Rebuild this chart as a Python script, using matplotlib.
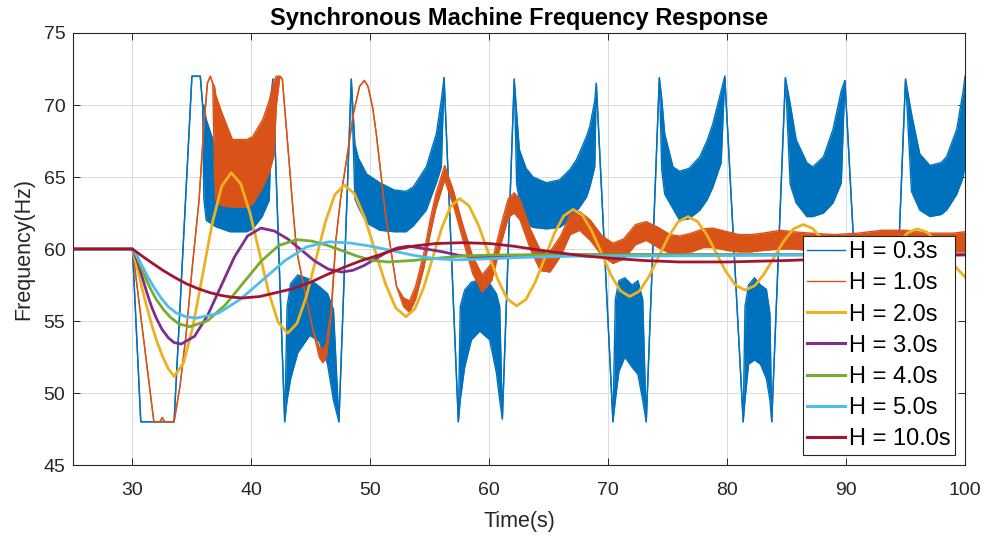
import matplotlib
matplotlib.use("Agg")
import matplotlib.pyplot as plt
from matplotlib.lines import Line2D

plt.rcParams['font.family'] = ['Liberation Sans', 'DejaVu Sans']

# H = 0.3s : time, lower envelope, upper envelope (equal where the trace is a single line)
t_03 = [25.0, 30.0, 30.7, 33.5, 35.0, 35.7, 35.9, 36.0, 36.2, 37.0, 38.2, 39.6, 40.1, 40.9, 41.5, 41.8,
        42.8, 43.0, 43.3, 43.9, 44.9, 45.7, 46.4, 46.9, 47.36, 48.4,
        48.7, 49.0, 49.7, 50.8, 52.0, 53.0, 53.6, 54.7, 55.55, 55.97, 56.2,
        57.4, 57.56, 57.93, 58.5, 59.2, 60.03, 60.6, 60.88, 61.1, 62.1,
        62.3, 62.53, 63.1, 63.68, 64.8, 65.9, 66.76, 67.33, 68.17, 68.45, 68.87, 69.0,
        70.4, 70.6, 70.9, 71.4, 72.0, 72.5, 72.9, 73.2, 74.3,
        74.5, 74.75, 75.45, 76.0, 76.8, 77.7, 78.3, 78.8, 79.5, 79.8,
        81.35, 81.5, 81.8, 82.3, 82.8, 83.3, 83.6, 83.75, 84.9,
        85.3, 85.8, 86.7, 87.2, 88.1, 88.9, 89.6, 89.9,
        91.45, 91.6, 91.9, 92.4, 92.9, 93.4, 93.7, 93.85, 95.0,
        95.5, 96.2, 97.05, 98.0, 98.45, 99.3, 99.85, 100.0]
lo_03 = [60, 60, 48, 48, 72, 72, 70, 63.5, 62.0, 61.55, 61.2, 61.2, 61.4, 62.25, 63.4, 71.8,
         48, 49.5, 51.0, 52.8, 54.0, 53.6, 52.0, 49.5, 48, 71.8,
         63.5, 62.9, 61.8, 61.3, 61.2, 61.2, 61.6, 62.7, 64.6, 65.7, 71.9,
         48, 49.5, 51.8, 53.7, 54.3, 53.7, 51.4, 49.5, 48.2, 71.8,
         64.5, 63.4, 61.8, 61.5, 61.4, 61.5, 62.0, 62.6, 63.6, 64.3, 65.7, 71.5,
         48, 49.5, 51.5, 52.5, 51.8, 51.3, 49.5, 48, 71.9,
         65.5, 63.8, 62.8, 62.0, 62.1, 62.7, 63.4, 64.3, 66.0, 72.0,
         48, 49.5, 52.0, 52.3, 52.0, 51.0, 49.5, 48, 71.9,
         64.5, 63.2, 62.25, 62.25, 62.5, 63.2, 64.6, 71.7,
         48, 49.5, 52.0, 52.3, 52.0, 51.0, 49.5, 48, 71.8,
         64.0, 62.7, 62.25, 62.4, 62.7, 63.8, 65.0, 66.0]
hi_03 = [60, 60, 48, 48, 72, 72, 70, 70.0, 69.0, 67.0, 65.5, 65.5, 66.0, 67.5, 69.5, 71.8,
         48, 56.0, 57.6, 58.2, 57.9, 57.4, 56.9, 55.8, 48, 71.8,
         67.3, 66.3, 65.2, 64.6, 64.1, 64.0, 64.3, 65.7, 68.0, 70.35, 71.9,
         48, 56.0, 57.15, 57.7, 57.85, 57.6, 56.9, 56.0, 48.2, 71.8,
         69.5, 66.9, 65.6, 65.0, 64.6, 64.8, 65.5, 66.2, 67.8, 68.5, 70.3, 71.5,
         48, 56.5, 57.8, 58.0, 57.5, 57.8, 56.5, 48, 71.9,
         70.5, 68.0, 65.7, 65.4, 65.6, 66.4, 67.5, 68.7, 71.0, 72.0,
         48, 56.0, 57.5, 58.0, 57.5, 57.2, 55.5, 48, 71.9,
         70.1, 67.6, 66.0, 65.7, 66.4, 68.3, 71.0, 71.7,
         48, 56.0, 57.5, 58.0, 57.5, 57.2, 55.5, 48, 71.8,
         69.4, 66.6, 65.8, 66.0, 66.4, 68.3, 71.0, 72.0]

# H = 1.0s
t_10 = [25.0, 30.0, 31.8, 32.3, 32.5, 32.7, 33.5, 34.0, 34.5, 35.0, 35.6, 36.0, 36.3, 36.55, 36.75,
        36.9, 37.0, 37.5, 38.4, 39.6, 40.1, 40.96, 41.5, 41.9, 42.1, 42.4, 42.6,
        42.93, 43.5, 43.8, 44.5, 45.2, 45.7, 46.0, 46.3, 46.7, 47.1, 47.5, 48.0, 48.6,
        49.1, 49.5, 49.8, 50.2, 50.5, 51.3, 52.2, 52.8, 53.3, 53.8, 54.5, 55.0, 55.5,
        56.25, 57.0, 57.8, 58.6, 59.4, 60.2, 61.0, 61.6, 62.1, 62.6, 63.5, 64.3, 65.1,
        66.0, 66.8, 67.6, 68.5, 69.5, 70.4, 71.3, 72.3, 73.2, 74.2, 75.2, 76.0, 77.0,
        78.0, 78.8, 80.0, 81.0, 82.0, 83.0, 84.5, 85.5, 87.0, 89.0, 91.0, 93.0, 95.0,
        97.0, 99.0, 100.0]
lo_10 = [60, 60, 48, 48, 48.3, 48, 48, 50.5, 54.0, 58.5, 63.4, 68.5, 71.5, 72.0, 71.5,
         65.0, 63.4, 63.0, 62.9, 62.9, 63.1, 64.3, 65.3, 66.5, 70.0, 72.0, 71.8,
         68.5, 62.7, 59.9, 57.0, 54.3, 52.5, 52.1, 52.5, 55.3, 60.6, 63.5, 66.2, 69.5,
         71.3, 71.7, 71.3, 69.8, 68.0, 62.25, 57.4, 56.0, 55.6, 56.5, 58.7, 60.9, 62.8,
         64.8, 63.0, 60.6, 58.3, 57.0, 57.8, 60.4, 62.2, 62.5, 62.0, 59.9, 58.5, 58.4,
         59.5, 61.0, 61.3, 60.6, 59.5, 59.0, 59.3, 60.3, 60.6, 60.1, 59.7, 59.7, 59.8,
         60.1, 60.1, 59.9, 59.8, 59.8, 59.9, 60.0, 60.0, 59.9, 59.8, 59.8, 60.0, 60.0,
         59.9, 59.8, 59.8]
hi_10 = [60, 60, 48, 48, 48.3, 48, 48, 50.5, 54.0, 58.5, 63.4, 68.5, 71.5, 72.0, 71.5,
         71.3, 70.7, 69.5, 67.6, 67.6, 67.8, 69.0, 70.3, 71.7, 72.0, 72.0, 71.8,
         68.5, 62.7, 59.9, 57.0, 54.3, 53.2, 53.0, 53.5, 55.8, 60.6, 63.5, 66.2, 69.5,
         71.3, 71.7, 71.3, 69.8, 68.0, 62.25, 57.4, 56.6, 56.4, 57.4, 59.7, 61.9, 63.8,
         65.8, 64.0, 61.6, 59.5, 58.2, 59.0, 61.7, 63.5, 63.9, 63.4, 61.3, 59.9, 59.8,
         60.9, 62.4, 62.6, 62.0, 60.9, 60.4, 60.7, 61.7, 61.9, 61.5, 61.0, 60.9, 61.1,
         61.4, 61.45, 61.2, 61.0, 61.0, 61.1, 61.3, 61.2, 61.1, 61.0, 61.1, 61.3, 61.3,
         61.1, 61.1, 61.2]

# H = 2.0s
t_20 = [25.0, 30.0, 30.4, 30.8, 31.2, 31.6, 32.0, 32.5, 33.0, 33.5,
        34.3, 35.1, 35.9, 36.7, 37.5, 38.3,
        39.09, 39.88, 40.68, 41.47, 42.26, 43.05,
        43.84, 44.63, 45.43, 46.22, 47.01, 47.8,
        48.67, 49.53, 50.4, 51.27, 52.13, 53.0,
        53.75, 54.5, 55.25, 56.0, 56.75, 57.5,
        58.3, 59.1, 59.9, 60.7, 61.5, 62.3,
        63.09, 63.88, 64.68, 65.47, 66.26, 67.05,
        67.84, 68.63, 69.43, 70.22, 71.01, 71.8,
        72.62, 73.43, 74.25, 75.07, 75.88, 76.7,
        77.5, 78.3, 79.1, 79.9, 80.7, 81.5,
        82.32, 83.13, 83.95, 84.77, 85.58, 86.4,
        87.2, 88.0, 88.8, 89.6, 90.4, 91.2,
        92.0, 92.8, 93.6, 94.4, 95.2, 96.0,
        96.82, 97.63, 98.45, 99.27, 100.0]
f_20 = [60, 60, 58.7, 57.3, 56.0, 54.8, 53.7, 52.6, 51.7, 51.15,
        52.1, 54.69, 58.23, 61.76, 64.35, 65.3,
        64.55, 62.51, 59.73, 56.94, 54.9, 54.15,
        54.84, 56.73, 59.3, 61.88, 63.76, 64.45,
        63.84, 62.16, 59.88, 57.59, 55.91, 55.3,
        55.85, 57.35, 59.4, 61.45, 62.95, 63.5,
        63.0, 61.64, 59.78, 57.91, 56.55, 56.05,
        56.5, 57.73, 59.4, 61.08, 62.3, 62.75,
        62.34, 61.24, 59.73, 58.21, 57.11, 56.7,
        57.07, 58.09, 59.48, 60.86, 61.88, 62.25,
        61.91, 60.98, 59.7, 58.43, 57.49, 57.15,
        57.45, 58.29, 59.43, 60.56, 61.4, 61.7,
        61.42, 60.65, 59.6, 58.55, 57.78, 57.5,
        57.76, 58.48, 59.45, 60.43, 61.14, 61.4,
        61.16, 60.5, 59.6, 58.7, 58.05]

# H = 3.0s
t_30 = [25.0, 30.0, 30.4, 30.8, 31.2, 31.6, 32.0, 32.5, 33.0, 33.5, 34.1,
        35.22, 36.33, 37.45, 38.57, 39.68, 40.8,
        41.93, 43.07, 44.2, 45.33, 46.47, 47.6,
        48.53, 49.47, 50.4, 51.33, 52.27, 53.2,
        54.7, 56.1, 57.5, 59.0, 62.0, 66.0, 75.0, 85.0, 100.0]
f_30 = [60, 60, 59.2, 58.1, 57.0, 56.0, 55.2, 54.4, 53.85, 53.5, 53.4,
        53.94, 55.41, 57.43, 59.44, 60.91, 61.45,
        61.25, 60.69, 59.93, 59.16, 58.6, 58.4,
        58.52, 58.85, 59.3, 59.75, 60.08, 60.2,
        60.0, 59.8, 59.55, 59.45, 59.55, 59.6, 59.6, 59.6, 59.6]

# H = 4.0s
t_40 = [25.0, 30.0, 30.4, 30.8, 31.2, 31.6, 32.0, 32.6, 33.2, 33.9, 34.8,
        36.3, 37.8, 39.3, 40.8, 42.3, 43.8,
        45.08, 46.37, 47.65, 48.93, 50.22, 51.5,
        53.5, 55.5, 57.5, 60.0, 65.0, 75.0, 85.0, 100.0]
f_40 = [60, 60, 59.4, 58.6, 57.8, 57.1, 56.5, 55.8, 55.25, 54.8, 54.6,
        55.01, 56.11, 57.63, 59.14, 60.24, 60.65,
        60.55, 60.26, 59.88, 59.49, 59.2, 59.1,
        59.2, 59.35, 59.5, 59.58, 59.6, 59.6, 59.6, 59.6]

# H = 5.0s
t_50 = [25.0, 30.0, 30.4, 30.8, 31.3, 31.8, 32.4, 33.0, 33.7, 34.5, 35.4,
        37.25, 39.1, 40.95, 42.8, 44.65, 46.5,
        48.28, 50.07, 51.85, 53.63, 55.42, 57.2,
        60.0, 63.0, 67.0, 75.0, 85.0, 100.0]
f_50 = [60, 60, 59.5, 58.85, 58.05, 57.35, 56.6, 56.0, 55.55, 55.3, 55.2,
        55.55, 56.53, 57.85, 59.18, 60.15, 60.5,
        60.42, 60.19, 59.88, 59.56, 59.33, 59.25,
        59.32, 59.42, 59.5, 59.52, 59.58, 59.65]

# H = 10.0s
t_100 = [25.0, 30.0, 30.5, 31.0, 31.7, 32.5, 33.5, 34.5, 35.5, 36.5, 37.5, 38.4, 39.3,
         40.7, 42.0, 43.5, 45.0, 46.3, 47.7, 49.1, 50.8, 52.0, 53.6, 55.5, 57.8,
         60.0, 62.0, 64.0, 66.2, 68.2, 70.4, 73.0, 76.0, 80.0, 85.0, 90.0, 95.0, 100.0]
f_100 = [60, 60, 59.7, 59.4, 59.0, 58.55, 58.05, 57.6, 57.25, 56.97, 56.77, 56.65, 56.6,
         56.7, 56.95, 57.25, 57.7, 58.2, 58.7, 59.15, 59.6, 59.95, 60.2, 60.38, 60.44,
         60.38, 60.2, 59.95, 59.7, 59.5, 59.35, 59.2, 59.1, 59.1, 59.2, 59.35, 59.5, 59.6]

labels = ['H = 0.3s', 'H = 1.0s', 'H = 2.0s', 'H = 3.0s', 'H = 4.0s', 'H = 5.0s', 'H = 10.0s']
colors = ['#0072BD', '#D95319', '#EDB120', '#7E2F8E', '#77AC30', '#4DBEEE', '#A2142F']

fig = plt.figure(figsize=(9.9, 5.42), dpi=100)
ax = fig.add_axes([73/990, 77/542, 892/990, 432/542])

# fast oscillating traces: fill the envelope and draw its edges
# (explicit zorder so each trace sits fully on top of the one before)
ax.fill_between(t_03, lo_03, hi_03, color=colors[0], lw=0, zorder=2.0)
ax.plot(t_03, lo_03, color=colors[0], lw=1.0, zorder=2.0)
ax.plot(t_03, hi_03, color=colors[0], lw=1.0, zorder=2.0)
ax.fill_between(t_10, lo_10, hi_10, color=colors[1], lw=0, zorder=2.1)
ax.plot(t_10, lo_10, color=colors[1], lw=1.0, zorder=2.1)
ax.plot(t_10, hi_10, color=colors[1], lw=1.0, zorder=2.1)

# slower machines
ax.plot(t_20, f_20, color=colors[2], lw=2.0, zorder=2.2)
ax.plot(t_30, f_30, color=colors[3], lw=2.0, zorder=2.3)
ax.plot(t_40, f_40, color=colors[4], lw=2.0, zorder=2.4)
ax.plot(t_50, f_50, color=colors[5], lw=2.0, zorder=2.5)
ax.plot(t_100, f_100, color=colors[6], lw=2.0, zorder=2.6)

ax.set_xlim(25, 100)
ax.set_ylim(45, 75)
ax.set_xticks([30, 40, 50, 60, 70, 80, 90, 100])
ax.set_yticks([45, 50, 55, 60, 65, 70, 75])
ax.grid(True, color='#dcdcdc', lw=0.7)
ax.set_axisbelow(True)
ax.tick_params(direction='in', top=True, right=True, length=5, width=0.7,
               colors='#262626', labelsize=14)
ax.tick_params(axis='x', pad=12)
ax.tick_params(axis='y', pad=5.5)
for s in ax.spines.values():
    s.set_color('#262626')
    s.set_linewidth(0.8)

ax.set_title('Synchronous Machine Frequency Response', fontsize=17, fontweight='bold', pad=6)
ax.set_xlabel('Time(s)', fontsize=15.5, color='#262626', labelpad=9)
ax.set_ylabel('Frequency(Hz)', fontsize=15.5, color='#262626', labelpad=7)

# legend
handles = []
for i in range(len(labels)):
    lw = 1.0 if i < 2 else 2.2
    handles.append(Line2D([0], [0], color=colors[i], lw=lw))
leg = ax.legend(handles, labels, loc='lower right', fontsize=17, frameon=True, fancybox=False,
                framealpha=1, edgecolor='#262626', handlelength=1.6, handletextpad=0.15,
                labelspacing=0.39, borderpad=0.2, borderaxespad=0.42)
leg.get_frame().set_linewidth(0.8)
leg.set_zorder(5)

plt.savefig('out.png', dpi=100)
